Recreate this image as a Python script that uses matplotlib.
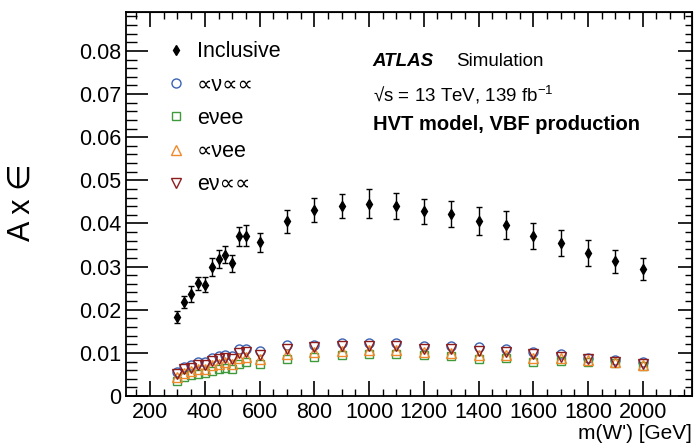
import matplotlib
matplotlib.use("Agg")
import matplotlib.pyplot as plt
from matplotlib.ticker import MultipleLocator

plt.rcParams["font.family"] = ["Liberation Sans", "DejaVu Sans"]
plt.rcParams["mathtext.fontset"] = "custom"
plt.rcParams["mathtext.rm"] = "Liberation Sans"
plt.rcParams["mathtext.it"] = "Liberation Sans:italic"

# W' mass points [GeV]
mass = [300, 325, 350, 375, 400, 425, 450, 475, 500, 525, 550, 600, 700, 800,
        900, 1000, 1100, 1200, 1300, 1400, 1500, 1600, 1700, 1800, 1900, 2000]

# acceptance x efficiency
incl = [0.0183, 0.0218, 0.0236, 0.0261, 0.0258, 0.0299, 0.0318, 0.0328, 0.0308,
        0.0370, 0.0372, 0.0357, 0.0405, 0.0431, 0.0441, 0.0446, 0.0440, 0.0428,
        0.0422, 0.0406, 0.0396, 0.0370, 0.0355, 0.0332, 0.0312, 0.0294]
incl_err = [0.00135, 0.0014, 0.0018, 0.0015, 0.0017, 0.0021, 0.0021, 0.0020, 0.0020,
            0.0022, 0.0025, 0.0022, 0.0027, 0.0027, 0.0028, 0.0033, 0.0030, 0.0029,
            0.0030, 0.0032, 0.0032, 0.0030, 0.0030, 0.0030, 0.0026, 0.0025]
mu_nu_mumu = [0.0056, 0.0068, 0.0072, 0.0078, 0.0078, 0.0089, 0.0092, 0.0096, 0.0092,
              0.0108, 0.0108, 0.0104, 0.0118, 0.0119, 0.0122, 0.0123, 0.0123, 0.0116,
              0.0116, 0.0114, 0.0109, 0.0103, 0.0097, 0.0089, 0.0083, 0.0078]
e_nu_ee = [0.0035, 0.0043, 0.0049, 0.0051, 0.0054, 0.0059, 0.0063, 0.0066, 0.0063,
           0.0074, 0.0079, 0.0074, 0.0087, 0.0091, 0.0095, 0.0097, 0.0097, 0.0095,
           0.0092, 0.0087, 0.0089, 0.0079, 0.0082, 0.0080, 0.0076, 0.0070]
mu_nu_ee = [0.0044, 0.0054, 0.0058, 0.0063, 0.0063, 0.0071, 0.0075, 0.0078, 0.0074,
            0.0088, 0.0090, 0.0086, 0.0098, 0.0101, 0.0104, 0.0106, 0.0106, 0.0102,
            0.0100, 0.0096, 0.0095, 0.0089, 0.0088, 0.0083, 0.0079, 0.0073]
e_nu_mumu = [0.0051, 0.0062, 0.0066, 0.0071, 0.0072, 0.0082, 0.0085, 0.0088, 0.0085,
             0.0100, 0.0101, 0.0096, 0.0110, 0.0113, 0.0115, 0.0117, 0.0116, 0.0109,
             0.0108, 0.0105, 0.0101, 0.0097, 0.0091, 0.0085, 0.0080, 0.0075]

FS = 15.5

fig = plt.figure(figsize=(7.0, 4.47), dpi=100)
ax = fig.add_axes([0.1796, 0.114, 0.809, 0.859])

ax.errorbar(mass, incl, yerr=incl_err, fmt="none", ecolor="black",
            elinewidth=1.0, capsize=2.5, capthick=1.0, zorder=5)
ax.plot(mass, incl, ls="none", marker="d", ms=5, color="black", label="Inclusive", zorder=6)

ms = 6.5
ax.plot(mass, mu_nu_mumu, ls="none", marker="o", ms=ms, mfc="none", mec="#3b63b5",
        mew=1.0, label="∝ν∝∝")
ax.plot(mass, e_nu_ee, ls="none", marker="s", ms=ms - 0.5, mfc="none", mec="#3f9a3c",
        mew=1.0, label="eνee")
ax.plot(mass, mu_nu_ee, ls="none", marker="^", ms=ms, mfc="none", mec="#f0892c",
        mew=1.0, label="∝νee")
ax.plot(mass, e_nu_mumu, ls="none", marker="v", ms=ms, mfc="none", mec="#8e1c1c",
        mew=1.0, label="eν∝∝")

ax.set_xlim(111, 2180)
ax.set_ylim(0, 0.089)
ax.xaxis.set_major_locator(MultipleLocator(200))
ax.xaxis.set_minor_locator(MultipleLocator(50))
ax.yaxis.set_major_locator(MultipleLocator(0.01))
ax.yaxis.set_minor_locator(MultipleLocator(0.002))
ax.yaxis.set_major_formatter(plt.FuncFormatter(lambda v, p: "0" if abs(v) < 1e-9 else f"{v:.2f}"))

for s in ax.spines.values():
    s.set_linewidth(1.3)

ax.tick_params(axis="x", which="major", direction="in", length=11, width=1.2, labelsize=FS, pad=4)
ax.tick_params(axis="x", which="minor", direction="in", length=5, width=1.0)
ax.tick_params(axis="y", which="major", direction="in", length=16, width=1.2, labelsize=FS, pad=3)
ax.tick_params(axis="y", which="minor", direction="in", length=8, width=1.0)

# mirrored ticks on top and right
top = ax.secondary_xaxis("top")
top.xaxis.set_major_locator(MultipleLocator(200))
top.xaxis.set_minor_locator(MultipleLocator(50))
top.tick_params(which="major", direction="in", length=11, width=1.2, labeltop=False)
top.tick_params(which="minor", direction="in", length=5, width=1.0)
right = ax.secondary_yaxis("right")
right.yaxis.set_major_locator(MultipleLocator(0.01))
right.yaxis.set_minor_locator(MultipleLocator(0.002))
right.tick_params(which="major", direction="in", length=10, width=1.2, labelright=False)
right.tick_params(which="minor", direction="in", length=5, width=1.0)

ax.set_xlabel("m(W') [GeV]", fontsize=15, loc="right", labelpad=1)
ax.set_ylabel("A x ∈", fontsize=22, va="center")
ax.yaxis.set_label_coords(-0.183, 0.506)

ax.legend(loc="upper left", bbox_to_anchor=(0.055, 0.946), frameon=False, fontsize=FS,
          handlelength=1.0, handletextpad=0.45, labelspacing=0.57, borderaxespad=0)

fig.text(0.5324, 0.8635, "ATLAS", fontsize=13.5, weight="bold", style="italic", va="center")
fig.text(0.651, 0.8635, "Simulation", fontsize=13.5, va="center")
fig.text(0.5324, 0.7875, "√s = 13 TeV, 139 fb$^{-1}$", fontsize=13.5, va="center")
fig.text(0.5324, 0.7204, "HVT model, VBF production", fontsize=14.5, weight="bold", va="center")

fig.savefig("out.png", dpi=100)
